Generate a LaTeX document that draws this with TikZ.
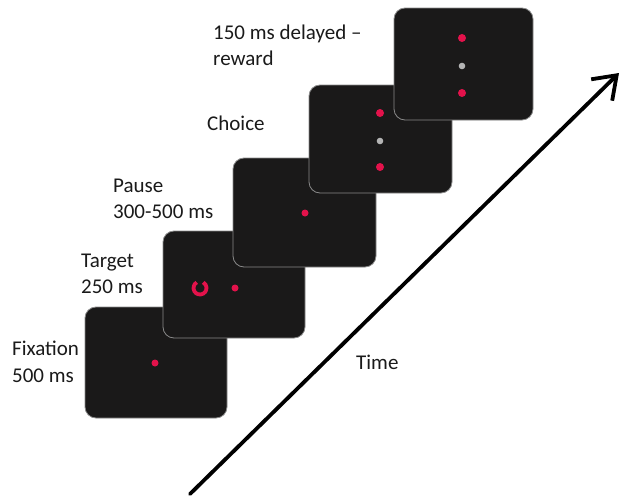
\documentclass[tikz,border=0pt]{standalone}
\usepackage{fontspec}
\setmainfont{Carlito}
\usetikzlibrary{arrows.meta}
\definecolor{scr}{HTML}{1A1919}
\definecolor{scrline}{HTML}{8A8A8A}
\definecolor{dotred}{HTML}{E3124B}
\definecolor{dotgrey}{HTML}{B4B4B4}
\definecolor{txt}{HTML}{1A1A1A}
\begin{document}
\begin{tikzpicture}[x=1pt,y=-1pt,
  screen/.style={draw=scrline,line width=0.8pt,fill=scr,rounded corners=11pt,
    inner sep=0pt,minimum width=142pt,minimum height=110pt},
  lbl/.style={inner sep=0pt,anchor=base west,text=txt,font=\fontsize{21}{26}\selectfont},
  timearrow/.style={line width=3.8pt,draw=black,line cap=round,
    -{Straight Barb[length=21pt,width=30pt,line width=3.8pt]}}]
\useasboundingbox[fill=white] (0,0) rectangle (624,496);
% screens
\node[screen,minimum width=142pt,minimum height=111pt] (s1) at (156,362.5) {};
\node[screen,minimum width=142pt,minimum height=107pt] (s2) at (234,284.5) {};
\node[screen,minimum width=143pt,minimum height=109pt] (s3) at (304.5,212.5) {};
\node[screen,minimum width=143pt,minimum height=108pt] (s4) at (380.5,139) {};
\node[screen,minimum width=139pt,minimum height=112pt] (s5) at (463.5,64) {};
% stimuli
\fill[dotred] (155,363) circle (3.5pt);
\draw[dotred,line width=3.8pt] (200,288) ++(120:6.5pt) arc[start angle=120,end angle=420,radius=6.5pt];
\fill[dotred] (235,288) circle (3.5pt);
\fill[dotred] (305,213) circle (3.5pt);
\fill[dotred] (380,113) circle (4pt);
\fill[dotgrey] (380,141) circle (3.3pt);
\fill[dotred] (380,167) circle (4pt);
\fill[dotred] (462,38) circle (4pt);
\fill[dotgrey] (462,66) circle (3.3pt);
\fill[dotred] (462,93) circle (4pt);
% labels
\node[lbl] (l5a) at (213,39) {150 ms delayed –};
\node[lbl] (l5b) at (213,65) {reward};
\node[lbl] (l4) at (207,130) {Choice};
\node[lbl] (l3a) at (113,192) {Pause};
\node[lbl] (l3b) at (113,218) {300-500 ms};
\node[lbl] (l2a) at (81,267) {Target};
\node[lbl] (l2b) at (81,293) {250 ms};
\node[lbl] (l1a) at (12,355) {Fixation};
\node[lbl] (l1b) at (12,382) {500 ms};
\node[lbl] (lt) at (356,369) {Time};
% time arrow
\coordinate (ta) at (190,494);
\coordinate (tb) at (619,73);
\draw[timearrow] (ta) -- (tb);
\end{tikzpicture}
\end{document}
